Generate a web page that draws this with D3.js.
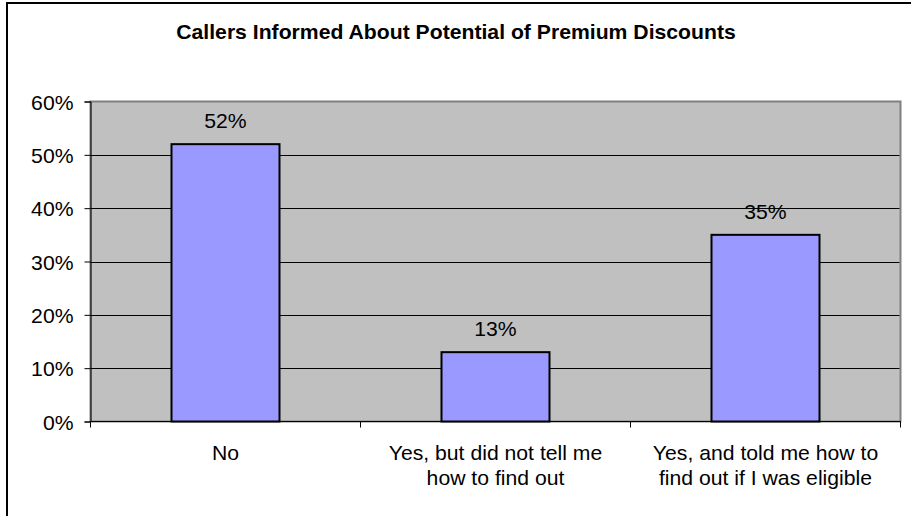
<!DOCTYPE html>
<html><head><meta charset="utf-8">
<script src="https://cdn.jsdelivr.net/npm/d3@7"></script>
<style>html,body{margin:0;padding:0;background:#fff;}svg{display:block;}</style>
</head><body>
<svg id="c" width="911" height="516"></svg>
<script>
const categories = [["No"], ["Yes, but did not tell me", "how to find out"], ["Yes, and told me how to", "find out if I was eligible"]];
const values = [52, 13, 35];
const valueLabels = ["52%", "13%", "35%"];
const yTicks = [0, 10, 20, 30, 40, 50, 60];
const title = "Callers Informed About Potential of Premium Discounts";

const svg = d3.select("#c");
const font = "Liberation Sans, Arial, sans-serif";
const FS = 20, SX = 1.06;
const L = 90.5, R = 900.5, T = 101.5, B = 421.5;

// place text at (px,py) with slight horizontal stretch
function place(sel, px, py) {
  sel.attr("transform", (d, i) => `translate(${typeof px === "function" ? px(d, i) : px},${typeof py === "function" ? py(d, i) : py}) scale(${SX},1)`);
}

// outer border
svg.append("rect").attr("x", 7).attr("y", 3).attr("width", 920).attr("height", 530)
  .attr("fill", "#fff").attr("stroke", "#000").attr("stroke-width", 2);

const t = svg.append("text").attr("text-anchor", "middle")
  .attr("font-family", font).attr("font-weight", "bold").attr("font-size", 20).text(title);
place(t, 456, 38.5);

const x = d3.scaleBand().domain(d3.range(values.length)).range([L, R]).paddingInner(0).paddingOuter(0);
const y = d3.scaleLinear().domain([0, 60]).range([B, T]);

svg.append("rect").attr("x", L).attr("y", T).attr("width", R - L).attr("height", B - T)
  .attr("fill", "#C0C0C0").attr("stroke", "#808080").attr("stroke-width", 2);

// gridlines
svg.append("g").selectAll("line").data(yTicks.filter(d => d > 0 && d < 60)).join("line")
  .attr("x1", L).attr("x2", R - 1).attr("y1", d => Math.round(y(d)) + 0.5).attr("y2", d => Math.round(y(d)) + 0.5)
  .attr("stroke", "#000").attr("stroke-width", 1);

// bars
const bw = x.bandwidth() * 0.4;
svg.append("g").selectAll("rect").data(values).join("rect")
  .attr("x", (d, i) => x(i) + x.bandwidth() / 2 - bw / 2)
  .attr("y", d => y(d)).attr("width", bw).attr("height", d => B - y(d))
  .attr("fill", "#9999FF").attr("stroke", "#000").attr("stroke-width", 2);

// value labels
const vl = svg.append("g").selectAll("text").data(values).join("text")
  .attr("text-anchor", "middle").attr("font-family", font).attr("font-size", FS)
  .text((d, i) => valueLabels[i]);
place(vl, (d, i) => x(i) + x.bandwidth() / 2, d => y(d) - 16);

// y axis
const yAxis = svg.append("g").attr("transform", `translate(${L},0)`)
  .call(d3.axisLeft(y).tickValues(yTicks).tickFormat(d => d + "%").tickSize(6).tickPadding(11));
yAxis.select(".domain").attr("stroke", "#000");
yAxis.selectAll(".tick line").attr("stroke", "#000");
const yt = yAxis.selectAll(".tick text").attr("font-family", font).attr("font-size", FS).attr("fill", "#000")
  .attr("dy", null).attr("x", null);
place(yt, -17, 7.5);

// x axis
const xAxis = svg.append("g").attr("transform", `translate(0,${B})`);
xAxis.append("line").attr("x1", L).attr("x2", R).attr("y1", 0).attr("y2", 0).attr("stroke", "#000");
xAxis.selectAll("line.t").data(d3.range(values.length + 1)).join("line").attr("class", "t")
  .attr("x1", i => L + i * x.step()).attr("x2", i => L + i * x.step())
  .attr("y1", 0).attr("y2", 6).attr("stroke", "#000");
const xt = xAxis.selectAll("text").data(categories).join("text")
  .attr("text-anchor", "middle").attr("font-family", font).attr("font-size", FS)
  .each(function (lines) {
    d3.select(this).selectAll("tspan").data(lines).join("tspan")
      .attr("x", 0).attr("y", (l, j) => j * 26).text(l => l);
  });
place(xt, (d, i) => x(i) + x.bandwidth() / 2, 38);
</script>
</body></html>
